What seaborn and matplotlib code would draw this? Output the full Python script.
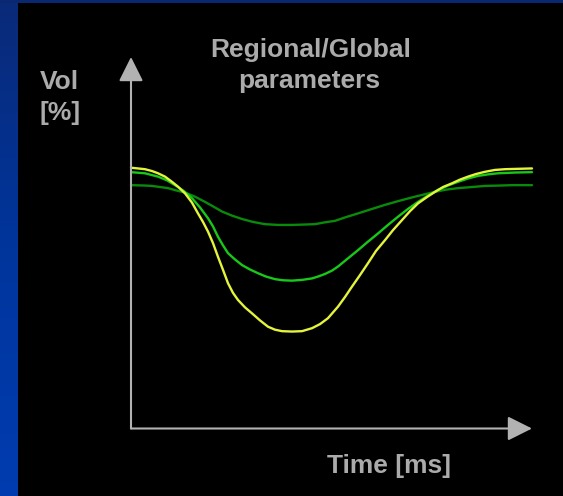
import numpy as np
import pandas as pd
import matplotlib
matplotlib.use("Agg")
import matplotlib.pyplot as plt
import seaborn as sns

# ---- data (time in ms, volume in %) ----
t_global = [0, 7, 14, 21, 27, 34, 41, 47, 54, 61, 67, 72, 77, 82, 87, 92, 97, 102, 107, 114,
            121, 129, 137, 144, 151, 161, 171, 181, 189, 197, 207, 214, 221, 229, 237, 245,
            254, 262, 271, 279, 287, 296, 304, 312, 321, 329, 337, 345, 354, 364, 374, 387, 401]
v_global = [70.2, 70.0, 69.8, 69.3, 68.7, 67.8, 66.4, 65.1, 63.3, 60.8, 57.9, 55.6, 53.0, 49.9,
            46.2, 42.7, 39.1, 36.5, 34.6, 32.6, 31.0, 29.1, 27.4, 26.6, 26.2, 26.1, 26.2, 27.0,
            28.1, 29.7, 32.8, 35.4, 38.2, 41.3, 44.5, 47.8, 50.7, 53.4, 56.1, 58.5, 60.6, 62.3,
            63.7, 65.0, 66.0, 67.0, 67.8, 68.5, 69.1, 69.6, 69.8, 69.9, 70.0]

t_mid = [0, 14, 27, 36, 44, 53, 61, 69, 77, 82, 87, 92, 97, 104, 111, 119, 127, 135, 144, 152,
         161, 171, 181, 187, 194, 201, 207, 217, 227, 237, 247, 257, 267, 277, 287, 297, 307,
         317, 327, 337, 347, 357, 367, 384, 401]
v_mid = [69.0, 68.7, 67.8, 66.8, 65.5, 63.9, 62.0, 59.5, 56.6, 54.4, 51.6, 49.3, 47.2, 45.5,
         44.0, 42.8, 41.8, 40.9, 40.2, 39.9, 39.8, 40.0, 40.4, 40.9, 41.6, 42.5, 43.6, 45.8,
         48.0, 50.3, 52.5, 54.8, 57.0, 59.1, 61.0, 62.7, 64.2, 65.4, 66.4, 67.3, 68.0, 68.4,
         68.7, 68.9, 69.0]

t_reg = [0, 14, 21, 29, 37, 45, 54, 64, 74, 82, 91, 101, 111, 122, 134, 147, 161, 173, 184,
         194, 204, 215, 227, 241, 254, 267, 281, 293, 304, 315, 327, 341, 354, 369, 381, 401]
v_reg = [65.5, 65.4, 65.3, 65.0, 64.7, 64.1, 63.5, 62.4, 61.0, 59.8, 58.4, 57.3, 56.4, 55.6,
         55.0, 54.8, 54.8, 54.9, 55.0, 55.5, 55.9, 56.9, 57.9, 59.1, 60.2, 61.2, 62.2, 63.0,
         63.7, 64.3, 64.7, 65.0, 65.3, 65.4, 65.5, 65.5]

series_names = ["regional", "intermediate", "global"]
colors = {"regional": "#0a8a0a", "intermediate": "#18c818", "global": "#e4f43c"}

title_lines = ["Regional/Global", "parameters"]
ylabel_lines = ["Vol", "[%]"]
xlabel = "Time [ms]"

df = pd.concat([
    pd.DataFrame({"t": t_reg, "v": v_reg, "s": "regional"}),
    pd.DataFrame({"t": t_mid, "v": v_mid, "s": "intermediate"}),
    pd.DataFrame({"t": t_global, "v": v_global, "s": "global"}),
], ignore_index=True)

W, H = 563, 496
fig = plt.figure(figsize=(W / 100, H / 100), dpi=100)
fig.patch.set_facecolor("#000000")

# blue frame (left band gradient + thin top band)
bg = fig.add_axes([0, 0, 18 / W, 1])
grad = np.linspace(0, 1, 256).reshape(-1, 1)
cmap = matplotlib.colors.LinearSegmentedColormap.from_list("b", ["#0a2a78", "#00359c", "#003cb0"])
bg.imshow(grad, aspect="auto", cmap=cmap, extent=[0, 1, 0, 1], origin="upper")
bg.set_axis_off()
top = fig.add_axes([0, 1 - 3 / H, 1, 3 / H])
top.set_facecolor("#0a2872")
top.set_xticks([]); top.set_yticks([])
for sp in top.spines.values():
    sp.set_visible(False)

# main axes: pixel box x 131..532, y 57..428.5
left, right, ytop, ybot = 131, 532, 57, 428.5
ax = fig.add_axes([left / W, 1 - ybot / H, (right - left) / W, (ybot - ytop) / H])
ax.set_facecolor("none")
for name in series_names:
    sub = df[df["s"] == name]
    sns.lineplot(data=sub, x="t", y="v", color=colors[name], lw=1.7, ax=ax,
                 estimator=None, sort=False, legend=False, clip_on=False,
                 solid_joinstyle="round", solid_capstyle="round")
ax.set_xlim(0, 401)
ax.set_ylim(0, 100)
ax.set_xlabel("")
ax.set_ylabel("")
ax.set_xticks([]); ax.set_yticks([])
for sp in ax.spines.values():
    sp.set_visible(False)

axis_col = "#b2b2b2"
style = matplotlib.patches.ArrowStyle("-|>", head_length=15, head_width=7.5)
for xy in [(0, 1), (1, 0)]:
    ax.annotate("", xy=xy, xytext=(0, 0), xycoords="axes fraction",
                textcoords="axes fraction",
                arrowprops=dict(arrowstyle=style, mutation_scale=1, color=axis_col,
                                lw=1.5, shrinkA=0, shrinkB=0), annotation_clip=False)

txt = dict(color="#ababab", fontsize=19, fontweight="bold", family=["Liberation Sans", "DejaVu Sans"])
fig.text(310.5 / W, 1 - 56.7 / H, title_lines[0], ha="center", va="baseline", **txt)
fig.text(309.5 / W, 1 - 88.3 / H, title_lines[1], ha="center", va="baseline", **txt)
fig.text(39.5 / W, 1 - 89 / H, ylabel_lines[0], ha="left", va="baseline", **txt)
fig.text(39.5 / W, 1 - 120 / H, ylabel_lines[1], ha="left", va="baseline", **txt)
fig.text(327 / W, 1 - 472.7 / H, xlabel, ha="left", va="baseline", **txt)

fig.savefig("out.png", dpi=100, facecolor=fig.get_facecolor())
